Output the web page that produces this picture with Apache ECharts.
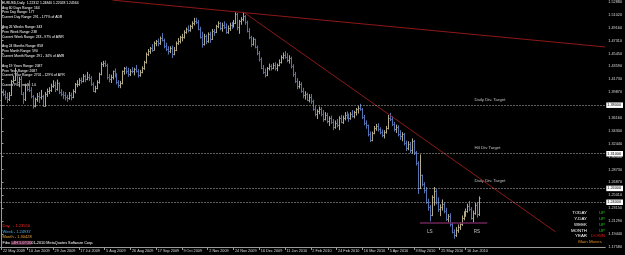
<!DOCTYPE html>
<html>
<head>
<meta charset="utf-8">
<script src="https://cdn.jsdelivr.net/npm/echarts@6/dist/echarts.min.js"></script>
<style>
  html, body { margin: 0; padding: 0; background: #000; }
  #main { width: 625px; height: 255px; }
</style>
</head>
<body>
<div id="main"></div>
<script>
// EURUSD daily bars, [open, high, low, close], 22 May 2009 .. Jun 2010
var dailyBars = [
  // 22 May 2009
  [1.3880,1.4040,1.3860,1.4005],[1.4005,1.4030,1.3930,1.3965],[1.3965,1.4010,1.3880,1.3925],[1.3925,1.3980,1.3830,1.3890],
  [1.3890,1.3990,1.3860,1.3950],[1.3950,1.4165,1.3935,1.4150],[1.4150,1.4225,1.4110,1.4170],[1.4170,1.4340,1.4150,1.4270],
  [1.4270,1.4290,1.4090,1.4130],[1.4130,1.4210,1.4060,1.4175],[1.4175,1.4220,1.3950,1.3965],[1.3965,1.3990,1.3820,1.3885],
  [1.3885,1.4110,1.3860,1.4085],
  // 10 Jun 2009
  [1.4085,1.4120,1.4000,1.4040],[1.4040,1.4160,1.3990,1.4020],[1.4020,1.4060,1.3900,1.3935],[1.3935,1.3945,1.3750,1.3790],
  [1.3790,1.3910,1.3770,1.3890],[1.3890,1.3975,1.3850,1.3935],[1.3935,1.3990,1.3830,1.3915],[1.3915,1.4020,1.3880,1.3930],
  [1.3930,1.3950,1.3780,1.3795],[1.3795,1.3990,1.3780,1.3965],[1.3965,1.4040,1.3920,1.4005],[1.4005,1.4060,1.3960,1.4025],
  [1.4025,1.4110,1.3990,1.4075],
  // 29 Jun 2009
  [1.4075,1.4160,1.4050,1.4090],[1.4090,1.4140,1.3990,1.4030],[1.4030,1.4170,1.4010,1.4120],[1.4120,1.4130,1.3960,1.3990],
  [1.3990,1.4030,1.3930,1.3960],[1.3960,1.4000,1.3890,1.3940],[1.3940,1.3990,1.3870,1.3920],[1.3920,1.3950,1.3850,1.3900],
  [1.3900,1.3990,1.3880,1.3950],[1.3950,1.3980,1.3870,1.3920],[1.3920,1.4030,1.3900,1.4000],[1.4000,1.4120,1.3970,1.4100],
  [1.4100,1.4160,1.4060,1.4110],
  // 17 Jul 2009
  [1.4110,1.4190,1.4080,1.4160],[1.4160,1.4200,1.4110,1.4150],[1.4150,1.4250,1.4130,1.4220],[1.4220,1.4240,1.4130,1.4180],
  [1.4180,1.4280,1.4160,1.4210],[1.4210,1.4250,1.4150,1.4190],[1.4190,1.4220,1.4080,1.4100],[1.4100,1.4130,1.3990,1.4010],
  [1.4010,1.4080,1.3980,1.4050],[1.4050,1.4160,1.4030,1.4130],[1.4130,1.4270,1.4110,1.4250],[1.4250,1.4420,1.4230,1.4400],
  [1.4400,1.4440,1.4350,1.4410],
  // 5 Aug 2009
  [1.4410,1.4445,1.4350,1.4380],[1.4380,1.4400,1.4170,1.4200],[1.4200,1.4250,1.4130,1.4180],[1.4180,1.4240,1.4120,1.4200],
  [1.4200,1.4300,1.4170,1.4290],[1.4290,1.4330,1.4200,1.4240],[1.4240,1.4260,1.4100,1.4140],[1.4140,1.4160,1.4050,1.4090],
  [1.4090,1.4150,1.4045,1.4120],[1.4120,1.4300,1.4100,1.4290],[1.4290,1.4350,1.4240,1.4330],[1.4330,1.4360,1.4250,1.4300],
  [1.4300,1.4340,1.4210,1.4250],
  // 26 Aug 2009
  [1.4250,1.4320,1.4220,1.4300],[1.4300,1.4350,1.4260,1.4290],[1.4290,1.4340,1.4230,1.4320],[1.4320,1.4380,1.4270,1.4300],
  [1.4300,1.4320,1.4200,1.4240],[1.4240,1.4310,1.4210,1.4280],[1.4280,1.4360,1.4260,1.4330],[1.4330,1.4440,1.4310,1.4420],
  [1.4420,1.4560,1.4400,1.4540],[1.4540,1.4610,1.4510,1.4580],[1.4580,1.4640,1.4540,1.4620],[1.4620,1.4680,1.4570,1.4600],
  [1.4600,1.4720,1.4590,1.4700],
  // 17 Sep 2009
  [1.4700,1.4740,1.4650,1.4720],[1.4720,1.4760,1.4650,1.4690],[1.4690,1.4790,1.4670,1.4770],[1.4770,1.4840,1.4720,1.4740],
  [1.4740,1.4760,1.4620,1.4650],[1.4650,1.4700,1.4580,1.4610],[1.4610,1.4650,1.4530,1.4580],[1.4580,1.4650,1.4550,1.4630],
  [1.4630,1.4660,1.4480,1.4540],[1.4540,1.4640,1.4520,1.4600],[1.4600,1.4720,1.4580,1.4700],[1.4700,1.4770,1.4670,1.4730],
  [1.4730,1.4800,1.4690,1.4780],
  // 9 Oct 2009
  [1.4780,1.4830,1.4720,1.4790],[1.4790,1.4880,1.4760,1.4860],[1.4860,1.4920,1.4830,1.4900],[1.4900,1.4950,1.4850,1.4880],
  [1.4880,1.4960,1.4860,1.4940],[1.4940,1.5010,1.4900,1.4980],[1.4980,1.5060,1.4950,1.5020],[1.5020,1.5060,1.4970,1.5000],
  [1.5000,1.5030,1.4880,1.4900],[1.4900,1.4930,1.4760,1.4790],[1.4790,1.4860,1.4630,1.4680],[1.4680,1.4830,1.4660,1.4800],
  [1.4800,1.4820,1.4680,1.4720],
  // 2 Nov 2009
  [1.4720,1.4850,1.4700,1.4820],[1.4820,1.4860,1.4700,1.4760],[1.4760,1.4900,1.4740,1.4870],[1.4870,1.4900,1.4800,1.4860],
  [1.4860,1.4960,1.4840,1.4940],[1.4940,1.5010,1.4910,1.4990],[1.4990,1.5000,1.4880,1.4920],[1.4920,1.4990,1.4860,1.4960],
  [1.4960,1.5010,1.4900,1.4930],[1.4930,1.4980,1.4830,1.4860],[1.4860,1.4950,1.4830,1.4910],[1.4910,1.4990,1.4870,1.4960],
  [1.4960,1.5000,1.4900,1.4950],
  // 24 Nov 2009
  [1.4950,1.5030,1.4920,1.4990],[1.4990,1.5140,1.4970,1.5120],[1.5120,1.5130,1.4880,1.4930],[1.4930,1.5030,1.4830,1.5010],
  [1.5010,1.5070,1.4960,1.5040],[1.5040,1.5144,1.5010,1.5080],[1.5080,1.5100,1.4960,1.5000],[1.5000,1.5020,1.4850,1.4870],
  [1.4870,1.4910,1.4750,1.4780],[1.4780,1.4800,1.4640,1.4680],[1.4680,1.4780,1.4660,1.4750],[1.4750,1.4760,1.4620,1.4640],
  [1.4640,1.4660,1.4520,1.4550],
  // 16 Dec 2009
  [1.4550,1.4580,1.4430,1.4460],[1.4460,1.4490,1.4320,1.4340],[1.4340,1.4380,1.4250,1.4280],[1.4280,1.4330,1.4200,1.4240],
  [1.4240,1.4350,1.4220,1.4330],[1.4330,1.4400,1.4300,1.4370],[1.4370,1.4390,1.4300,1.4340],[1.4340,1.4410,1.4320,1.4380],
  [1.4380,1.4420,1.4300,1.4330],[1.4330,1.4400,1.4290,1.4380],[1.4380,1.4460,1.4360,1.4430],[1.4430,1.4520,1.4400,1.4490],
  [1.4490,1.4560,1.4460,1.4530],
  // 11 Jan 2010
  [1.4530,1.4580,1.4470,1.4500],[1.4500,1.4550,1.4420,1.4450],[1.4450,1.4520,1.4400,1.4480],[1.4480,1.4500,1.4330,1.4360],
  [1.4360,1.4390,1.4210,1.4250],[1.4250,1.4280,1.4120,1.4150],[1.4150,1.4190,1.4030,1.4080],[1.4080,1.4150,1.4040,1.4110],
  [1.4110,1.4130,1.3980,1.4010],[1.4010,1.4050,1.3900,1.3940],[1.3940,1.4000,1.3880,1.3960],[1.3960,1.3980,1.3860,1.3880],
  [1.3880,1.3960,1.3840,1.3920],
  // 2 Feb 2010
  [1.3920,1.3960,1.3820,1.3860],[1.3860,1.3880,1.3720,1.3740],[1.3740,1.3790,1.3640,1.3680],[1.3680,1.3740,1.3600,1.3710],
  [1.3710,1.3780,1.3670,1.3750],[1.3750,1.3770,1.3640,1.3680],[1.3680,1.3730,1.3560,1.3600],[1.3600,1.3700,1.3580,1.3660],
  [1.3660,1.3690,1.3540,1.3570],[1.3570,1.3640,1.3500,1.3610],[1.3610,1.3650,1.3530,1.3560],[1.3560,1.3600,1.3440,1.3490],
  [1.3490,1.3580,1.3460,1.3540],
  // 24 Feb 2010
  [1.3540,1.3600,1.3480,1.3510],[1.3510,1.3640,1.3440,1.3620],[1.3620,1.3660,1.3540,1.3560],[1.3560,1.3650,1.3530,1.3620],
  [1.3620,1.3700,1.3580,1.3660],[1.3660,1.3710,1.3600,1.3640],[1.3640,1.3680,1.3560,1.3610],[1.3610,1.3700,1.3590,1.3670],
  [1.3670,1.3730,1.3620,1.3640],[1.3640,1.3720,1.3610,1.3700],[1.3700,1.3760,1.3650,1.3740],[1.3740,1.3790,1.3680,1.3760],
  [1.3760,1.3820,1.3720,1.3740],
  // 16 Mar 2010
  [1.3740,1.3760,1.3600,1.3630],[1.3630,1.3660,1.3510,1.3540],[1.3540,1.3580,1.3460,1.3510],[1.3510,1.3520,1.3350,1.3380],
  [1.3380,1.3420,1.3270,1.3300],[1.3300,1.3420,1.3280,1.3400],[1.3400,1.3500,1.3380,1.3470],[1.3470,1.3530,1.3430,1.3500],
  [1.3500,1.3540,1.3420,1.3450],[1.3450,1.3480,1.3380,1.3420],[1.3420,1.3450,1.3340,1.3370],[1.3370,1.3440,1.3320,1.3410],
  [1.3410,1.3500,1.3390,1.3470],
  // 5 Apr 2010
  [1.3470,1.3660,1.3450,1.3620],[1.3620,1.3690,1.3570,1.3600],[1.3600,1.3640,1.3500,1.3530],[1.3530,1.3560,1.3420,1.3460],
  [1.3460,1.3520,1.3400,1.3480],[1.3480,1.3510,1.3350,1.3390],[1.3390,1.3440,1.3300,1.3350],[1.3350,1.3410,1.3280,1.3380],
  [1.3380,1.3400,1.3220,1.3250],[1.3250,1.3290,1.3140,1.3180],[1.3180,1.3280,1.3150,1.3240],[1.3240,1.3270,1.3110,1.3150],
  [1.3150,1.3320,1.3100,1.3290],
  // 3 May 2010
  [1.3290,1.3300,1.3080,1.3120],[1.3120,1.3140,1.2930,1.2960],[1.2960,1.2990,1.2520,1.2600],[1.2600,1.3090,1.2590,1.2790],
  [1.2790,1.2800,1.2630,1.2660],[1.2660,1.2690,1.2530,1.2580],[1.2580,1.2620,1.2380,1.2400],[1.2400,1.2450,1.2280,1.2330],
  [1.2330,1.2360,1.2125,1.2220],[1.2220,1.2500,1.2200,1.2470],[1.2470,1.2620,1.2350,1.2560],[1.2560,1.2590,1.2370,1.2400],
  [1.2400,1.2470,1.2260,1.2300],
  // 25 May 2010
  [1.2300,1.2370,1.2200,1.2330],[1.2330,1.2440,1.2280,1.2380],[1.2380,1.2400,1.2240,1.2270],[1.2270,1.2320,1.2130,1.2160],
  [1.2160,1.2230,1.2110,1.2200],[1.2200,1.2240,1.2050,1.2080],[1.2080,1.2110,1.1950,1.1970],[1.1970,1.2010,1.1876,1.1930],
  [1.1930,1.2040,1.1900,1.2000],[1.2000,1.2080,1.1960,1.2040],[1.2040,1.2110,1.2000,1.2080],[1.2080,1.2210,1.2060,1.2180],
  [1.2180,1.2270,1.2140,1.2250],
  // 16 Jun 2010
  [1.2250,1.2310,1.2190,1.2280],[1.2280,1.2380,1.2250,1.2350],[1.2350,1.2420,1.2270,1.2300],[1.2300,1.2330,1.2150,1.2180],
  [1.2180,1.2280,1.2110,1.2250],[1.2250,1.2390,1.2220,1.2360],[1.2360,1.2400,1.2180,1.2230],[1.22312,1.24840,1.22028,1.24564]
];

var dateLabels = ['22 May 2009', '10 Jun 2009', '29 Jun 2009', '17 Jul 2009', '5 Aug 2009', '26 Aug 2009',
  '17 Sep 2009', '9 Oct 2009', '2 Nov 2009', '24 Nov 2009', '16 Dec 2009', '11 Jan 2010', '2 Feb 2010',
  '24 Feb 2010', '16 Mar 2010', '5 Apr 2010', '3 May 2010', '25 May 2010', '16 Jun 2010'];
var dateTickBars = [0, 13, 26, 39, 52, 65, 78, 91, 104, 117, 130, 143, 156, 169, 182, 195, 208, 221, 234];

var priceTicks = [1.52880, 1.51020, 1.49160, 1.47310, 1.45450, 1.43590, 1.41730, 1.39870, 1.38020, 1.36160,
  1.34300, 1.32440, 1.30580, 1.28730, 1.26870, 1.25010, 1.23150, 1.21290, 1.19440, 1.17580];

// drawn objects: trendlines [bar, price] pairs
var upperTrend = [[56, 1.5315], [304.5, 1.4640]];
var fallTrend = [[122, 1.5144], [279.5, 1.1972]];
var neckline = [[211, 1.2101], [245, 1.2101]];

// dotted target levels
var targetNames = ['Daily Div. Target', 'H4 Div Target', 'Daily Div. Target'];
var targetLevels = [1.3790, 1.3085, 1.2620];
var priceLine = 1.2445;

// day / week / month levels
var pivotNames = ['Day   - ', 'Week - ', 'Month - '];
var pivotValues = [1.23550, 1.24937, 1.30428];

var infoLines = [
  'EURUSD,Daily  1.22312 1.24840 1.22028 1.24564',
  'Avg 60 Days Range: 164',
  'Prev Day Range: 177',
  'Current Day Range: 291 - 177% of ADR',
  '',
  'Avg 26 Weeks Range: 343',
  'Prev Week Range: 238',
  'Current Week Range: 233 - 97% of AWR',
  '',
  'Avg 24 Months Range: 858',
  'Prev Month Range: 590',
  'Current Month Range: 291 - 34% of AMR',
  '',
  'Avg 19 Years Range: 2087',
  'Prev Year Range: 2687',
  'Current Year Range: 2701 - 129% of AYR',
  '',
  'Current Pos break: 1.0'
];

var moveNames = ['TODAY', 'Y-DAY', 'WEEK', 'MONTH', 'YEAR'];
var moveStates = ['UP', 'UP', 'UP', 'UP', 'DOWN'];

var UP_COLOR = '#b3ac86';
var DOWN_COLOR = '#5673b2';
var TREND_COLOR = '#8e1818';
var FONT = '"Liberation Sans", Arial, sans-serif';

var chart = echarts.init(document.getElementById('main'), null, { renderer: 'canvas' });

function renderBar(params, api) {
  var i = api.value(0);
  var op = api.coord([i, api.value(1)]);
  var hi = api.coord([i, api.value(2)]);
  var lo = api.coord([i, api.value(3)]);
  var cl = api.coord([i, api.value(4)]);
  var px = Math.round(hi[0]) + 0.5;
  var st = { stroke: api.value(4) >= api.value(1) ? UP_COLOR : DOWN_COLOR, lineWidth: 1 };
  var oy = Math.round(op[1]) + 0.5;
  var cy = Math.round(cl[1]) + 0.5;
  return {
    type: 'group',
    children: [
      { type: 'line', shape: { x1: px, y1: hi[1], x2: px, y2: lo[1] }, style: st },
      { type: 'line', shape: { x1: px - 1, y1: oy, x2: px, y2: oy }, style: st },
      { type: 'line', shape: { x1: px, y1: cy, x2: px + 1, y2: cy }, style: st }
    ]
  };
}

function boxLabel(bg, fg) {
  return {
    show: true, position: 'end', distance: 1,
    formatter: function (p) { return p.value.toFixed(5); },
    color: fg, backgroundColor: bg, fontSize: 3.8, fontFamily: FONT,
    padding: [1, 2, 0.5, 1], lineHeight: 4
  };
}

var levelLines = [];
targetLevels.forEach(function (v) {
  levelLines.push({ yAxis: v, lineStyle: { color: '#bdbdbd', type: [1, 2], width: 1 }, label: boxLabel('#ffffff', '#000') });
});
levelLines.push({ yAxis: priceLine, lineStyle: { color: '#bdbdbd', type: [1, 2], width: 1 }, label: boxLabel('#ffffff', '#000') });
levelLines.push({ yAxis: pivotValues[2], lineStyle: { opacity: 0 }, label: boxLabel('#e59a2f', '#000') });
levelLines.push({ yAxis: pivotValues[1], lineStyle: { opacity: 0 }, label: boxLabel('#9a4aa8', '#9a4aa8') });
levelLines.push({ yAxis: pivotValues[0], lineStyle: { opacity: 0 }, label: boxLabel('#e0201c', '#fff') });

var targetText = targetLevels.map(function (v, k) { return [238.5, v, targetNames[k]]; });
var shoulderText = [[216, neckline[0][1], 'LS'], [239.75, neckline[0][1], 'RS']];

var graphics = [
  {
    type: 'text', left: 2, top: 0.3, silent: true,
    style: { text: infoLines.join('\n'), fill: '#ffffff', font: '3.4px ' + FONT, lineHeight: 4.85 }
  },
  {
    type: 'text', left: 2.5, top: 223.5, silent: true,
    style: { text: pivotNames[0] + pivotValues[0].toFixed(5), fill: '#ff2a2a', font: '4px ' + FONT }
  },
  {
    type: 'text', left: 2.5, top: 229.5, silent: true,
    style: { text: pivotNames[1] + pivotValues[1].toFixed(5), fill: '#4fb0e8', font: '4px ' + FONT }
  },
  {
    type: 'text', left: 2.5, top: 235, silent: true,
    style: { text: pivotNames[2] + pivotValues[2].toFixed(5), fill: '#eba340', font: '4px ' + FONT }
  },
  {
    type: 'text', left: 2.5, top: 240.8, silent: true,
    style: {
      text: '{w|Fibo }{p|+4H 1.0\u00a920}{w|01-2010 MetaQuotes Software Corp.}',
      font: '3.8px ' + FONT,
      rich: {
        w: { fill: '#ffffff', fontSize: 3.8, fontFamily: FONT },
        p: { fill: '#e7a6c6', fontSize: 3.8, fontFamily: FONT, backgroundColor: '#5a2a44' }
      }
    }
  },
  {
    type: 'text', x: 590, y: 242, silent: true,
    style: { text: 'Main Moves', fill: '#e08a2a', font: '4.4px ' + FONT, textAlign: 'center', textVerticalAlign: 'middle' }
  }
];
moveNames.forEach(function (n, k) {
  var y = 213 + k * 5.8;
  graphics.push({
    type: 'text', x: 587, y: y, silent: true,
    style: { text: n, fill: '#ffffff', font: '4.4px ' + FONT, textAlign: 'right', textVerticalAlign: 'middle' }
  });
  graphics.push({
    type: 'text', x: 605, y: y, silent: true,
    style: {
      text: moveStates[k], fill: moveStates[k] === 'UP' ? '#1fc21f' : '#e01a1a',
      font: '4.4px ' + FONT, textAlign: 'right', textVerticalAlign: 'middle'
    }
  });
});

var option = {
  backgroundColor: '#000000',
  animation: false,
  grid: { left: 0, right: 15, top: 0, bottom: 8, containLabel: false },
  xAxis: {
    type: 'value', min: -0.5, max: 304.5,
    splitLine: { show: false },
    axisLine: { show: true, lineStyle: { color: '#9a9a9a', width: 1 } },
    axisTick: { show: true, customValues: dateTickBars, length: 3, lineStyle: { color: '#9a9a9a' } },
    axisLabel: {
      show: true, customValues: dateTickBars, color: '#d8d8d8', fontSize: 3.8, fontFamily: FONT,
      align: 'left', margin: 2, padding: [0, 0, 0, 1.5],
      formatter: function (v) { return dateLabels[dateTickBars.indexOf(v)] || ''; }
    }
  },
  yAxis: {
    type: 'value', position: 'right', min: 1.1755, max: 1.5317, scale: true,
    splitLine: { show: false },
    axisLine: { show: true, lineStyle: { color: '#9a9a9a', width: 1 } },
    axisTick: { show: true, customValues: priceTicks, length: 2, lineStyle: { color: '#9a9a9a' } },
    axisLabel: {
      show: true, customValues: priceTicks, color: '#d8d8d8', fontSize: 3.8, fontFamily: FONT, margin: 3,
      formatter: function (v) { return v.toFixed(5); }
    }
  },
  series: [
    {
      type: 'custom', name: 'EURUSD', renderItem: renderBar, clip: true,
      encode: { x: 0, y: [1, 2, 3, 4] },
      data: dailyBars.map(function (b, i) { return [i, b[0], b[1], b[2], b[3]]; }),
      markLine: { silent: true, symbol: ['none', 'none'], animation: false, data: levelLines }
    },
    {
      type: 'line', data: upperTrend, showSymbol: false, silent: true,
      lineStyle: { color: TREND_COLOR, width: 1 }
    },
    {
      type: 'line', data: fallTrend, showSymbol: false, silent: true,
      lineStyle: { color: TREND_COLOR, width: 1 }
    },
    {
      type: 'line', data: neckline, showSymbol: false, silent: true,
      lineStyle: { color: '#6b2357', width: 1.5 }
    },
    {
      type: 'scatter', data: targetText, symbolSize: 0, silent: true,
      label: {
        show: true, position: 'right', distance: 0, offset: [0, -6.5],
        formatter: function (p) { return p.value[2]; },
        color: '#e6e6e6', fontSize: 4.3, fontFamily: FONT
      }
    },
    {
      type: 'scatter', data: shoulderText, symbolSize: 0, silent: true,
      label: {
        show: true, position: 'inside', offset: [0, 9],
        formatter: function (p) { return p.value[2]; },
        color: '#e6e6e6', fontSize: 4.6, fontFamily: FONT
      }
    }
  ],
  graphic: graphics
};

chart.setOption(option);
</script>
</body>
</html>
